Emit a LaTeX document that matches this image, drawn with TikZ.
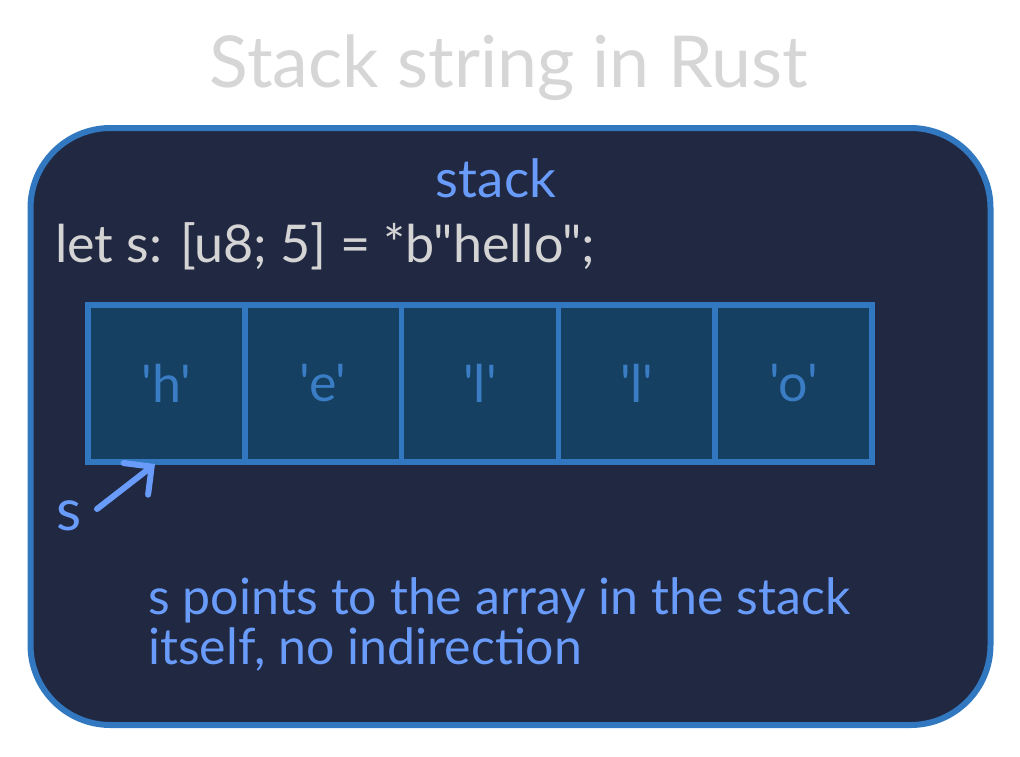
\documentclass[tikz,border=0pt]{standalone}
\usepackage{fontspec}
\usepackage{graphicx}
\newfontfamily\hand{Lato}
\usetikzlibrary{arrows.meta}
\definecolor{pagebg}{HTML}{FFFFFF}
\definecolor{titlegray}{HTML}{D6D6D6}
\definecolor{boxfill}{HTML}{212842}
\definecolor{boxline}{HTML}{3278C0}
\definecolor{cellfill}{HTML}{164062}
\definecolor{celltext}{HTML}{3A7DC4}
\definecolor{lightblue}{HTML}{699CFA}
\definecolor{codegray}{HTML}{D4D4D4}
\tikzset{
  frame/.style={draw=boxline, line width=6pt, fill=boxfill, rounded corners=80pt, inner sep=0pt},
  cell/.style={draw=boxline, line width=5.5pt, fill=cellfill, minimum width=156.8pt, minimum height=157pt, inner sep=0pt,
    font=\hand\fontsize{52}{60}\selectfont, text=celltext},
  txt/.style={inner sep=0pt, font=\hand},
  pointer/.style={draw=lightblue, line width=6pt, line cap=round, line join=round,
    -{Straight Barb[length=20pt,width=40pt,line cap=round]}},
}
\begin{document}
\begin{tikzpicture}[x=1pt,y=-1pt]
\useasboundingbox (0,0) rectangle (1020,756);
\fill[pagebg] (0,0) rectangle (1020,756);
\node[txt, text=titlegray] (title) at (509,68) {\resizebox{598pt}{!}{Stack string in Rust}};
\node[frame, minimum width=960pt, minimum height=597pt] (stackbox) at (510.5,426.5) {};
\node[txt, text=lightblue] (stacklbl) at (496,178) {\resizebox{120pt}{!}{stack}};
\node[txt, text=codegray, anchor=west] (code) at (55,246) {\resizebox{540pt}{!}{let s: [u8; 5] = *b"hello";}};
\node[cell] (c1) at (166.4,383.5) {'h'};
\node[cell] (c2) at (323.2,383.5) {'e'};
\node[cell] (c3) at (480.0,383.5) {'l'};
\node[cell] (c4) at (636.8,383.5) {'l'};
\node[cell] (c5) at (793.6,383.5) {'o'};
\node[txt, text=lightblue, font=\hand\fontsize{58}{60}\selectfont] (s) at (69,516) {s};
\coordinate (tail) at (97,509);
\coordinate (head) at (155,464);
\draw[pointer] (tail) -- (head);
\node[txt, text=lightblue, anchor=north west] (note) at (148,572) {\resizebox{702pt}{!}{\begin{tabular}{@{}l@{}}s points to the array in the stack\\[-2pt] itself, no indirection\end{tabular}}};
\end{tikzpicture}
\end{document}
